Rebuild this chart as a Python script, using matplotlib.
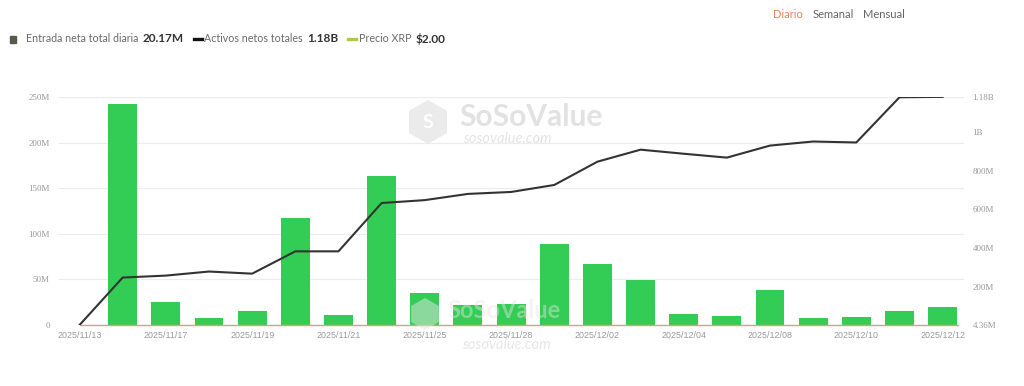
import matplotlib
matplotlib.use("Agg")
import matplotlib.pyplot as plt
from matplotlib.ticker import FixedLocator, FixedFormatter
from matplotlib.patches import RegularPolygon, Rectangle
from matplotlib.lines import Line2D

dates = ['2025/11/13', '2025/11/14', '2025/11/17', '2025/11/18', '2025/11/19',
         '2025/11/20', '2025/11/21', '2025/11/24', '2025/11/25', '2025/11/26',
         '2025/11/28', '2025/12/01', '2025/12/02', '2025/12/03', '2025/12/04',
         '2025/12/05', '2025/12/08', '2025/12/09', '2025/12/10', '2025/12/11',
         '2025/12/12']
daily_inflow_m = [0, 242, 25, 7.7, 15, 117, 11, 163, 35, 22, 23, 89, 67, 49,
                  12, 10, 38, 8, 9, 15, 20.17]
net_assets_m = [4.36, 249, 259, 280, 269, 384, 384, 633, 648, 680, 690, 726,
                846, 908, 887, 867, 929, 950, 945, 1178, 1180]
left_ticks = [0, 50, 100, 150, 200, 250]
left_labels = ['0', '50M', '100M', '150M', '200M', '250M']
right_ticks = [4.36, 200, 400, 600, 800, 1000, 1180]
right_labels = ['4.36M', '200M', '400M', '600M', '800M', '1B', '1.18B']
legend_names = ['Entrada neta total diaria', 'Activos netos totales', 'Precio XRP']
legend_values = ['20.17M', '1.18B', '$2.00']
periods = ['Diario', 'Semanal', 'Mensual']

W, H = 1024, 386
fig = plt.figure(figsize=(W / 100, H / 100), dpi=100)

def pixel_axes(z):
    o = fig.add_axes([0, 0, 1, 1], zorder=z)
    o.set_xlim(0, W)
    o.set_ylim(H, 0)
    o.axis('off')
    o.patch.set_alpha(0)
    return o

ov = pixel_axes(0)

ax = fig.add_axes([0.0566, 0.158, 0.885, 0.591], zorder=1)
ax.patch.set_alpha(0)
ax2 = ax.twinx()

x = list(range(len(dates)))
ax.bar(x, daily_inflow_m, width=0.67, color='#33CC55', zorder=2)
ax.set_xlim(-0.5, len(dates) - 0.5)
ax.set_ylim(0, 250)
ax.yaxis.set_major_locator(FixedLocator(left_ticks))
ax.yaxis.set_major_formatter(FixedFormatter(left_labels))
ax.grid(axis='y', color='#ececec', linewidth=0.8, zorder=0)
ax.set_axisbelow(True)

ax2.plot(x, net_assets_m, color='#333333', linewidth=1.5, zorder=3)
ax2.set_ylim(min(net_assets_m), max(net_assets_m))
ax2.yaxis.set_major_locator(FixedLocator(right_ticks))
ax2.yaxis.set_major_formatter(FixedFormatter(right_labels))

for a in (ax, ax2):
    for s in ('top', 'left', 'right', 'bottom'):
        a.spines[s].set_visible(False)
ax.spines['bottom'].set_visible(True)
ax.spines['bottom'].set_color('#e0a070')
ax.spines['bottom'].set_linewidth(1.0)
ax.spines['bottom'].set_bounds(0, len(dates) - 0.65)

ax.tick_params(axis='y', length=0, pad=6, labelsize=6.5, labelcolor='#999999')
ax2.tick_params(axis='y', length=0, pad=6, labelsize=6.5, labelcolor='#999999')
for lab in ax.get_yticklabels() + ax2.get_yticklabels():
    lab.set_fontfamily('Liberation Serif')

ax.set_xticks(x[::2])
ax.set_xticklabels(dates[::2], fontsize=6.4, color='#999999', family='Liberation Sans')
ax.tick_params(axis='x', length=0, pad=4)

# legend row (pixel layout)
renderer = fig.canvas.get_renderer()
ly = 39
cx = 10
ov.add_patch(Rectangle((cx, ly - 3.5), 6, 7, color='#5a5a4e'))
markers = [None, '#111111', '#b5c44a']
for i, (name, val) in enumerate(zip(legend_names, legend_values)):
    if i == 0:
        cx += 16
    else:
        ov.add_line(Line2D([cx, cx + 8], [ly, ly], color=markers[i], linewidth=2.4))
        cx += 11
    t = ov.text(cx, ly, name, fontsize=7.7, color='#6b6b6b', family='Lato', va='center')
    bb = t.get_window_extent(renderer)
    cx += bb.width + 4
    t = ov.text(cx, ly, val, fontsize=8.5, color='#333333', family='Lato',
                weight='bold', va='center')
    bb = t.get_window_extent(renderer)
    cx += bb.width + 10

# period selector
px = [773, 813, 863]
pcolors = ['#e8845a', '#666666', '#666666']
for p, xx, c in zip(periods, px, pcolors):
    ov.text(xx, 15, p, fontsize=8, color=c, family='Lato', va='center')

# watermarks
ov.add_patch(RegularPolygon((428, 122), 6, radius=22, facecolor='#ebebeb',
                            edgecolor='none'))
ov.text(428, 123, 'S', fontsize=14, color='white', family='Lato', weight='bold',
        ha='center', va='center')
ov.text(459, 117, 'SoSoValue', fontsize=21.5, color='#e2e2e2', family='Lato',
        weight='bold', va='center')
ov.text(463, 139, 'sosovalue.com', fontsize=10.5, color='#e4e4e4', family='Lato',
        style='italic', va='center')

top = pixel_axes(5)
top.add_patch(RegularPolygon((425, 314), 6, radius=16, facecolor='#e6e6e6',
                             edgecolor='none', alpha=0.5))
top.text(447, 311, 'SoSoValue', fontsize=17, color='#e6e6e6', family='Lato',
         weight='bold', va='center', alpha=0.45)
top.text(462, 345, 'sosovalue.com', fontsize=10.5, color='#e4e4e4', family='Lato',
         style='italic', va='center', alpha=0.9)

fig.savefig('out.png', dpi=100, facecolor='white')
